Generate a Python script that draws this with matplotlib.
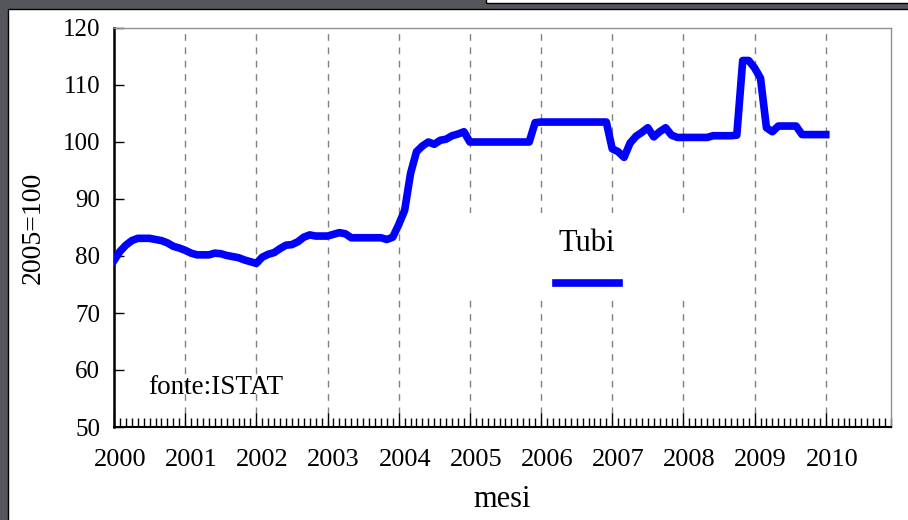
import numpy as np
import matplotlib
matplotlib.use('Agg')
import matplotlib.pyplot as plt
import matplotlib.transforms as mtransforms
from matplotlib.patches import Rectangle
from matplotlib.lines import Line2D
from matplotlib.ticker import MultipleLocator

plt.rcParams['font.family'] = ['Liberation Serif', 'DejaVu Serif']

# Tubi price index (2005=100), monthly Jan 2000 - Jan 2010
tubi = [
    79.2, 80.8, 81.9, 82.7, 83.1, 83.1, 83.1, 82.9, 82.7, 82.3, 81.7, 81.4,   # 2000
    81.0, 80.5, 80.2, 80.2, 80.2, 80.5, 80.4, 80.1, 79.9, 79.7, 79.3, 79.0,   # 2001
    78.7, 79.8, 80.3, 80.6, 81.3, 81.9, 82.0, 82.5, 83.3, 83.7, 83.5, 83.5,   # 2002
    83.5, 83.8, 84.1, 83.9, 83.2, 83.2, 83.2, 83.2, 83.2, 83.2, 82.9, 83.3,   # 2003
    85.5, 88.0, 94.5, 98.3, 99.3, 100.0, 99.6, 100.3, 100.5, 101.1, 101.4, 101.8,  # 2004
    100.0, 100.0, 100.0, 100.0, 100.0, 100.0, 100.0, 100.0, 100.0, 100.0, 100.0, 103.4,  # 2005
    103.5, 103.5, 103.5, 103.5, 103.5, 103.5, 103.5, 103.5, 103.5, 103.5, 103.5, 103.5,  # 2006
    98.8, 98.3, 97.3, 99.8, 101.0, 101.7, 102.5, 100.9, 101.8, 102.5, 101.2, 100.8,  # 2007
    100.8, 100.8, 100.8, 100.8, 100.8, 101.1, 101.1, 101.1, 101.1, 101.2, 114.3, 114.3,  # 2008
    113.0, 111.2, 102.5, 101.8, 102.8, 102.8, 102.8, 102.8, 101.3, 101.3, 101.3, 101.3,  # 2009
    101.3,  # 2010
]
years = list(range(2000, 2011))
n_months_axis = 131

x = 2000 + np.arange(len(tubi)) / 12.0

fig = plt.figure(figsize=(9.08, 5.2), dpi=100, facecolor='#55565c')
# white slide panel
fig.patches.append(Rectangle((8 / 908, -0.01), 1, 1 - 9 / 520 + 0.01, transform=fig.transFigure,
                             facecolor='white', edgecolor='black', lw=1, zorder=-5))
fig.patches.append(Rectangle((486 / 908, 1 - 3 / 520), 1, 0.02, transform=fig.transFigure,
                             facecolor='white', edgecolor='black', lw=1, zorder=-5))

ax = fig.add_axes([114 / 908, 93 / 520, 777 / 908, 399 / 520])

ax.plot(x, tubi, color='#0000ff', lw=5.5, solid_joinstyle='round', zorder=4)

ax.set_xlim(2000, 2000 + n_months_axis / 12.0)
ax.set_ylim(50, 120)
ax.set_xticks(years)
ax.set_xticklabels([str(y) for y in years])
ax.xaxis.set_minor_locator(MultipleLocator(1 / 12.0))
ax.set_yticks(range(50, 121, 10))

ax.tick_params(axis='x', which='major', direction='in', length=10, width=1,
               pad=16, labelsize=19, colors='black')
ax.tick_params(axis='x', which='minor', direction='in', length=6.5, width=1)
ax.tick_params(axis='y', which='major', direction='in', length=7, width=1,
               pad=10, labelsize=18)

# year labels sit a little right of their ticks
offset = mtransforms.ScaledTranslation(0.06, 0, fig.dpi_scale_trans)
for lbl in ax.get_xticklabels():
    lbl.set_transform(lbl.get_transform() + offset)

ax.grid(axis='x', which='major', color='#808080', lw=1, linestyle=(0, (4.8, 4.8)))
ax.set_axisbelow(True)

for side in ['top', 'right']:
    ax.spines[side].set_color('#909090')
    ax.spines[side].set_linewidth(1)
ax.spines['left'].set_linewidth(1.8)
ax.spines['bottom'].set_linewidth(1.5)

ax.set_ylabel('2005=100', fontsize=20)
ax.yaxis.set_label_coords(-(114 - 46) / 777, 0.5)
ax.set_xlabel('mesi', fontsize=22)
ax.xaxis.set_label_coords(0.5, -0.145)

ax.text(0.044, 0.098, 'fonte:ISTAT', transform=ax.transAxes, fontsize=19.5,
        ha='left', va='center')

# white box behind the legend (hides the grid there)
ax.add_patch(Rectangle((0.452, 0.318), 0.289, 0.218, transform=ax.transAxes,
                       facecolor='white', edgecolor='none', zorder=2))
handle = Line2D([], [], color='#0000ff', lw=5.5)
leg = ax.legend([handle], [''], title='Tubi', loc='center',
                bbox_to_anchor=(0.609, 0.406), frameon=False,
                handlelength=2.05, handletextpad=0, fontsize=22,
                title_fontsize=22, borderpad=0, labelspacing=0.45)
leg.set_zorder(5)

plt.savefig('out.png', dpi=100, facecolor=fig.get_facecolor())
